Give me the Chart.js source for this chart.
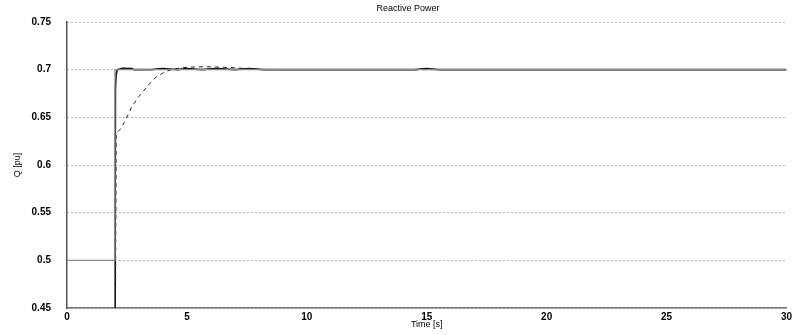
<!DOCTYPE html>
<html>
<head>
<meta charset="utf-8">
<script src="https://cdn.jsdelivr.net/npm/chart.js@4.4.1/dist/chart.umd.min.js"></script>
<style>
  html, body { margin: 0; padding: 0; background: #fff; }
  #wrap { width: 795px; height: 335px; }
</style>
</head>
<body>
<div id="wrap"><canvas id="qChart"></canvas></div>
<script>
// Reactive power response data
const refTime  = [0, 2, 2, 30];
const refQ     = [0.5, 0.5, 0.7, 0.7];

const fastTime = [0, 2, 2.02, 2.05, 2.1, 2.3, 2.7, 2.8, 3.5, 4, 4.6, 5, 5.6, 6.2, 7, 7.6, 8.2, 9, 10, 14.5, 15, 15.5, 30];
const fastQ    = [0.3, 0.3, 0.68, 0.695, 0.7, 0.7015, 0.7012, 0.7, 0.7, 0.7012, 0.7, 0.7012, 0.7, 0.7012, 0.7, 0.7012, 0.7, 0.7, 0.7, 0.7, 0.7012, 0.7, 0.7];

const slowTime = [0, 2, 2.05, 2.2, 2.4, 2.7, 3.0, 3.4, 3.7, 4.1, 4.5, 5, 5.5, 6, 6.5, 7, 7.5, 8, 9, 30];
const slowQ    = [0.3, 0.3, 0.633, 0.637, 0.645, 0.661, 0.672, 0.684, 0.692, 0.698, 0.701, 0.7025, 0.703, 0.703, 0.7025, 0.702, 0.701, 0.7003, 0.7, 0.7];

const xTicks = [0, 5, 10, 15, 20, 25, 30];
const yTicks = [0.45, 0.5, 0.55, 0.6, 0.65, 0.7, 0.75];

function toPoints(xs, ys) {
    return xs.map(function (x, i) { return { x: x, y: ys[i] }; });
}

const FONT = "'Liberation Sans', Arial, sans-serif";

// draws the small title above the plot
const titlePlugin = {
    id: 'plotTitle',
    afterDraw: function (chart) {
        const c = chart.ctx;
        c.save();
        c.font = '9px ' + FONT;
        c.fillStyle = '#000';
        c.textAlign = 'center';
        c.textBaseline = 'middle';
        c.fillText('Reactive Power', 408, 9);
        c.restore();
    }
};

const ctx = document.getElementById('qChart').getContext('2d');
const qChart = new Chart(ctx, {
    type: 'scatter',
    data: {
        datasets: [{
            label: 'Reference',
            data: toPoints(refTime, refQ),
            showLine: true,
            borderColor: '#8a8a8a',
            borderWidth: 1.3,
            pointRadius: 0,
            order: 1
        }, {
            label: 'Fast',
            data: toPoints(fastTime, fastQ),
            showLine: true,
            borderColor: '#111',
            borderWidth: 1.6,
            pointRadius: 0,
            order: 3
        }, {
            label: 'Slow',
            data: toPoints(slowTime, slowQ),
            showLine: true,
            borderColor: '#222',
            borderWidth: 1,
            borderDash: [4, 4],
            pointRadius: 0,
            order: 2
        }]
    },
    options: {
        responsive: true,
        maintainAspectRatio: false,
        animation: false,
        layout: { padding: { top: 20, right: 2, left: 0, bottom: 0 } },
        plugins: {
            legend: { display: false },
            tooltip: { enabled: false }
        },
        scales: {
            x: {
                type: 'linear',
                min: 0,
                max: 30,
                afterFit: function (s) { s.height = 27; },
                afterBuildTicks: function (s) { s.ticks = xTicks.map(function (v) { return { value: v }; }); },
                grid: { drawOnChartArea: false, drawTicks: false },
                border: { display: true, color: '#777', width: 1.5 },
                ticks: {
                    padding: 3,
                    color: '#000',
                    font: { family: FONT, size: 10, weight: 'bold' }
                },
                title: {
                    display: true,
                    text: 'Time [s]',
                    color: '#000',
                    font: { family: FONT, size: 9 },
                    padding: { top: 0, bottom: 5 }
                }
            },
            y: {
                min: 0.45,
                max: 0.75,
                afterFit: function (s) { s.width = 67; },
                afterBuildTicks: function (s) { s.ticks = yTicks.map(function (v) { return { value: v }; }); },
                grid: {
                    color: '#707070',
                    lineWidth: 1,
                    drawTicks: false
                },
                border: { display: true, color: '#555', width: 1.5, dash: [1, 3] },
                ticks: {
                    padding: 16,
                    color: '#000',
                    font: { family: FONT, size: 10, weight: 'bold' },
                    callback: function (v) { return String(Math.round(v * 100) / 100); }
                },
                title: {
                    display: true,
                    text: 'Q [pu]',
                    color: '#000',
                    font: { family: FONT, size: 9 },
                    padding: { top: 12, bottom: 0 }
                }
            }
        }
    },
    plugins: [titlePlugin]
});
</script>
</body>
</html>
